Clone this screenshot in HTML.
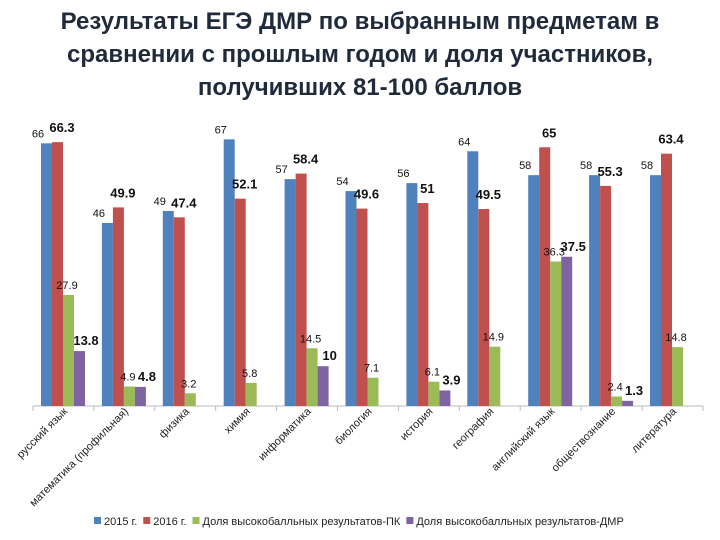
<!DOCTYPE html>
<html><head><meta charset="utf-8"><style>
body{margin:0;background:#fff;width:720px;height:540px;overflow:hidden;font-family:"Liberation Sans","Noto Sans CJK SC",sans-serif}
#title{position:absolute;left:0;top:5px;width:720px;text-align:center;font-weight:bold;font-size:24px;line-height:33px;color:#1f2a3a}
</style></head><body>
<div id="title">Результаты ЕГЭ ДМР по выбранным предметам в<br>сравнении с прошлым годом и доля участников,<br>получивших 81-100 баллов</div>
<svg id="chart" width="720" height="540" style="position:absolute;left:0;top:0"></svg>
<script>
const categories=["русский язык","математика (профильная)","физика","химия","информатика","биология","история","география","английский язык","обществознание","литература"];
const s2015=[66,46,49,67,57,54,56,64,58,58,58];
const s2016=[66.3,49.9,47.4,52.1,58.4,49.6,51,49.5,65,55.3,63.4];
const sPK=[27.9,4.9,3.2,5.8,14.5,7.1,6.1,14.9,36.3,2.4,14.8];
const sDMR=[13.8,4.8,null,null,10,null,3.9,null,37.5,1.3,null];
const seriesNames=["2015 г.","2016 г.","Доля высокобалльных результатов-ПК","Доля высокобалльных результатов-ДМР"];
const colors=["#4f81bd","#c0504d","#9bbb59","#8064a2"];
const NS="http://www.w3.org/2000/svg";
const svg=document.getElementById('chart');
const x0=33,step=60.9,base=406,k=3.98;
const y=v=>base-v*k;
const cx=i=>x0+i*step;
function mk(t,a){const e=document.createElementNS(NS,t);for(const p in a)e.setAttribute(p,a[p]);svg.appendChild(e);return e;}
const axis=mk('line',{x1:x0,y1:base,x2:x0+11*step,y2:base,stroke:'#bbb'});


for(let i=0;i<=11;i++){const t=mk('line',{x1:cx(i),y1:base,x2:cx(i),y2:base+5,stroke:'#bbb'});

}
const all=[s2015,s2016,sPK,sDMR];
const bold=[false,true,false,true];
all.forEach((s,si)=>{s.forEach((v,i)=>{if(v==null)return;
const bx=cx(i)+8+si*11;
const r=mk('rect',{x:bx,y:y(v),width:11,height:v*k,fill:colors[si]});


const t=mk('text',{x:bx+(si==0?-3:si==1?10:si==3?12:4),y:y(v)-(si==1?10:6),'font-size':bold[si]?13:11,'font-weight':bold[si]?'bold':'normal',fill:'#111','text-anchor':'middle'});
t.textContent=v;

});});
categories.forEach((c,i)=>{const px=cx(i)+35,py=412;
const t=mk('text',{x:px,y:py,'font-size':11,fill:'#222','text-anchor':'end',transform:`rotate(-45 ${px} ${py})`});
t.textContent=c;

});
let lx=94;
seriesNames.forEach((n,i)=>{const r=mk('rect',{x:lx,y:517,width:7,height:7,fill:colors[i]});


const t=mk('text',{x:lx+10,y:525,'font-size':11,fill:'#222'});t.textContent=n;


lx+=t.getComputedTextLength()+16;});
</script>
</body></html>
